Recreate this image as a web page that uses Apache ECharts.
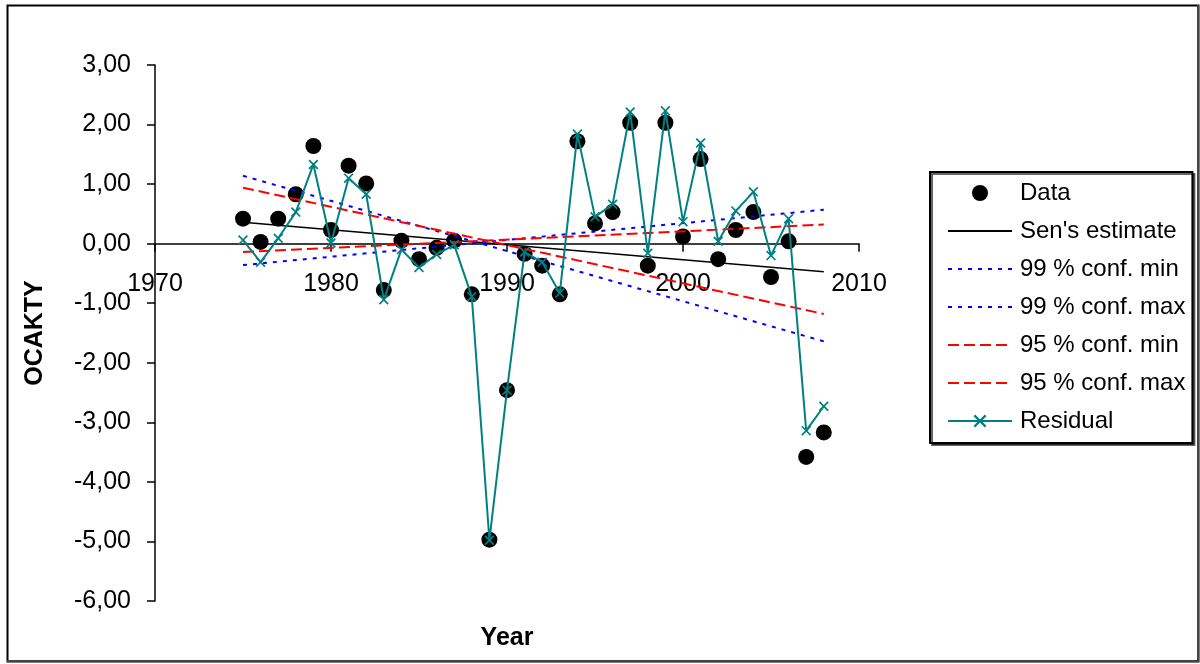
<!DOCTYPE html>
<html>
<head>
<meta charset="utf-8">
<style>
  html, body { margin: 0; padding: 0; background: #fff; }
  #chart { width: 1200px; height: 664px; }
</style>
<script src="https://cdn.jsdelivr.net/npm/echarts@6/dist/echarts.min.js"></script>
</head>
<body>
<div id="chart"></div>
<script>
// Annual series, 1975-2008
const years = [1975, 1976, 1977, 1978, 1979, 1980, 1981, 1982, 1983, 1984,
  1985, 1986, 1987, 1988, 1989, 1990, 1991, 1992, 1993, 1994, 1995, 1996,
  1997, 1998, 1999, 2000, 2001, 2002, 2003, 2004, 2005, 2006, 2007, 2008];

const dataValues = [0.42, 0.03, 0.42, 0.83, 1.64, 0.23, 1.31, 1.01, -0.78, 0.05,
  -0.26, -0.07, 0.05, -0.85, -4.97, -2.46, -0.17, -0.37, -0.85, 1.72, 0.34, 0.53,
  2.03, -0.37, 2.03, 0.12, 1.42, -0.26, 0.23, 0.53, -0.56, 0.04, -3.58, -3.17];

const residualValues = [0.06, -0.31, 0.09, 0.53, 1.33, 0.01, 1.10, 0.83, -0.94, -0.10,
  -0.40, -0.18, -0.02, -0.89, -4.98, -2.46, -0.14, -0.31, -0.83, 1.84, 0.45, 0.66,
  2.21, -0.16, 2.23, 0.37, 1.69, 0.04, 0.55, 0.87, -0.20, 0.42, -3.14, -2.73];

// Trend lines: value at first and last year
const lineYears = [1975, 2008];
const senEstimate = [0.36, -0.47];
const conf99Min = [1.14, -1.64];
const conf99Max = [-0.36, 0.57];
const conf95Min = [0.94, -1.18];
const conf95Max = [-0.14, 0.32];

const xTicks = [1970, 2010, 10];
const yTicks = [-6, 3, 1];

const FONT = "'Liberation Sans', Arial, sans-serif";
const TEAL = '#008080';

// Plot box (pixels) and where the value 0 sits inside it
const PLOT = { left: 155, right: 341, top: 65, bottom: 63 };
const plotH = 664 - PLOT.top - PLOT.bottom;
const zeroFromBottom = PLOT.bottom + plotH * (0 - yTicks[0]) / (yTicks[1] - yTicks[0]);

const pair = (xs, ys) => xs.map((x, i) => [x, ys[i]]);

const crossPath = 'path://M0,1.2L1.2,0L10,8.8L8.8,10Z M8.8,0L10,1.2L1.2,10L0,8.8Z';

const chart = echarts.init(document.getElementById('chart'), null, { renderer: 'canvas' });

const trend = (name, vals, color, type, width) => ({
  name, type: 'line', data: pair(lineYears, vals), symbol: 'none',
  lineStyle: { color, type, width }, itemStyle: { color }, z: 3
});

const lineLegend = name => ({ name, itemStyle: { opacity: 0 } });

chart.setOption({
  animation: false,
  backgroundColor: '#fff',
  textStyle: { fontFamily: FONT },
  grid: [
    Object.assign({ outerBoundsMode: 'none' }, PLOT),
    // band whose bottom edge is the zero line: carries the year axis
    { left: PLOT.left, right: PLOT.right, top: PLOT.top, bottom: zeroFromBottom, outerBoundsMode: 'none' }
  ],
  xAxis: [{
    gridIndex: 0, type: 'value',
    min: xTicks[0], max: xTicks[1], interval: xTicks[2],
    name: 'Year', nameLocation: 'middle', nameGap: 25,
    nameTextStyle: { fontSize: 25, fontWeight: 'bold', color: '#000', fontFamily: FONT },
    axisLine: { show: false, onZero: false },
    axisTick: { show: false }, axisLabel: { show: false }, splitLine: { show: false }
  }, {
    gridIndex: 1, type: 'value', position: 'bottom',
    min: xTicks[0], max: xTicks[1], interval: xTicks[2],
    axisLine: { onZero: false, lineStyle: { color: '#000', width: 1.5 } },
    axisTick: { show: true, inside: false, length: 8, lineStyle: { color: '#000', width: 1.5 } },
    axisLabel: { fontSize: 25, color: '#000', margin: 28, fontFamily: FONT, formatter: v => String(v) },
    splitLine: { show: false }
  }],
  yAxis: [{
    gridIndex: 0, type: 'value',
    min: yTicks[0], max: yTicks[1], interval: yTicks[2],
    name: 'OCAKTY', nameLocation: 'middle', nameGap: 107, nameRotate: 90,
    nameTextStyle: { fontSize: 25, fontWeight: 'bold', color: '#000', fontFamily: FONT },
    axisLine: { onZero: false, lineStyle: { color: '#000', width: 1.5 } },
    axisTick: { show: true, inside: false, length: 8, lineStyle: { color: '#000', width: 1.5 } },
    axisLabel: {
      fontSize: 25, color: '#000', margin: 24, fontFamily: FONT,
      formatter: v => v.toFixed(2).replace('.', ',')
    },
    splitLine: { show: false }
  }, {
    gridIndex: 1, type: 'value', min: 0, max: yTicks[1], show: false
  }],
  legend: {
    orient: 'vertical', left: 930, top: 172,
    padding: [9, 7, 10, 17],
    borderColor: '#000', borderWidth: 2,
    backgroundColor: '#fff',
    shadowColor: 'rgba(0,0,0,0.6)', shadowOffsetX: 2, shadowOffsetY: 2,
    itemWidth: 64, itemHeight: 16, itemGap: 14,
    textStyle: { fontSize: 24, color: '#000', lineHeight: 24, fontFamily: FONT, padding: [0, 0, 0, 3] },
    data: ['Data', lineLegend("Sen's estimate"), lineLegend('99 % conf. min'),
      lineLegend('99 % conf. max'), lineLegend('95 % conf. min'),
      lineLegend('95 % conf. max'), 'Residual']
  },
  graphic: [{
    type: 'rect', left: 5, top: 3, silent: true, z: -10,
    shape: { width: 1191, height: 656 },
    style: { fill: 'none', stroke: '#000', lineWidth: 2 }
  }, {
    type: 'polyline', silent: true, z: -10,
    shape: { points: [[1198, 5], [1198, 661], [7, 661]] },
    style: { stroke: '#444', lineWidth: 2, fill: 'none' }
  }],
  series: [
    {
      name: 'Data', type: 'scatter', data: pair(years, dataValues),
      symbol: 'circle', symbolSize: 16, itemStyle: { color: '#000', opacity: 1 }, z: 2
    },
    trend("Sen's estimate", senEstimate, '#000', 'solid', 1.5),
    trend('99 % conf. min', conf99Min, '#0000ff', [4, 6], 2),
    trend('99 % conf. max', conf99Max, '#0000ff', [4, 6], 2),
    trend('95 % conf. min', conf95Min, '#ff0000', [11, 5], 2),
    trend('95 % conf. max', conf95Max, '#ff0000', [11, 5], 2),
    {
      name: 'Residual', type: 'line', data: pair(years, residualValues),
      symbol: crossPath, symbolSize: 10, showSymbol: true,
      lineStyle: { color: TEAL, width: 2 }, itemStyle: { color: TEAL }, z: 4
    }
  ]
});
</script>
</body>
</html>
